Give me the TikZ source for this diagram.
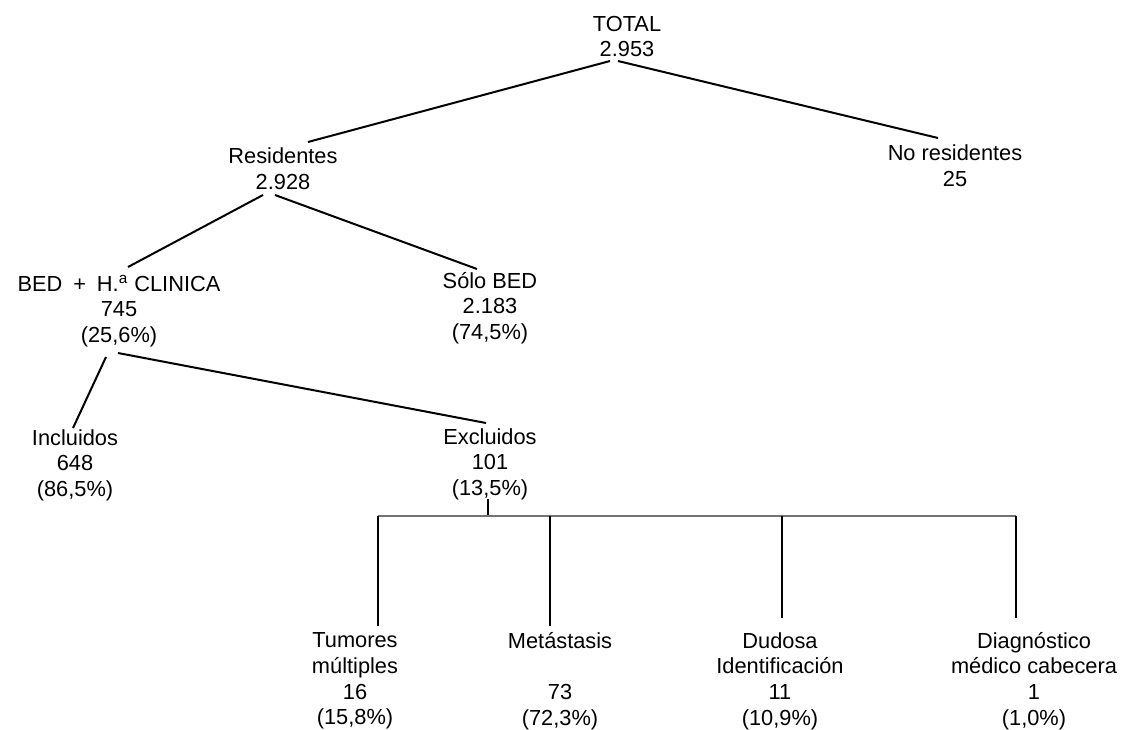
\documentclass[tikz,border=0pt]{standalone}
\usepackage{fontspec}
\setmainfont{Liberation Sans}
\usetikzlibrary{calc}
\tikzset{cifra/.style = {align=center, inner sep=0, font=\fontsize{10.9}{12.8}\selectfont}}
\tikzset{rama/.style = {line width=1pt}}
\tikzset{barra/.style = {line width=0.8pt, black!55}}

\begin{document}
\begin{tikzpicture}[x=0.5pt, y=0.5pt]
      \useasboundingbox (0,0) rectangle (1125,-729);
      \node [cifra] (total) at (627,-36.5) {TOTAL\\2.953};
      \node [cifra] (res) at (283,-168.5) {Residentes\\2.928};
      \node [cifra] (nores) at (955,-166) {No residentes\\25};
      \node [cifra] (bed) at (119,-311) {BED\enspace+\enspace H.\textsuperscript{a} CLINICA\\745\\(25,6\%)};
      \node [cifra] (solo) at (490,-308) {Sólo BED\\2.183\\(74,5\%)};
      \node [cifra] (inc) at (75,-465) {Incluidos\\648\\(86,5\%)};
      \node [cifra] (exc) at (490,-464) {Excluidos\\101\\(13,5\%)};
      \node [cifra] (tum) at (355,-681) {Tumores\\múltiples\\16\\(15,8\%)};
      \node [cifra] (met) at (560,-681) {Metástasis\\\mbox{}\\73\\(72,3\%)};
      \node [cifra] (dud) at (780,-681) {Dudosa\\Identificación\\11\\(10,9\%)};
      \node [cifra] (diag) at (1034,-681) {Diagnóstico\\médico cabecera\\1\\(1,0\%)};
      \draw [rama] ($(total)+(-17,-24.5)$) -- ($(res)+(25,26.5)$);
      \draw [rama] ($(total)+(-9,-24.5)$) -- ($(nores)+(-17,28)$);
      \draw [rama] ($(res)+(-20,-26.5)$) -- ($(bed)+(9,44)$);
      \draw [rama] ($(res)+(-8,-26.5)$) -- ($(solo)+(-13,39)$);
      \draw [rama] ($(bed)+(-13,-46)$) -- ($(inc)+(-2,37)$);
      \draw [rama] ($(bed)+(-1,-42)$) -- ($(exc)+(-4,41)$);
      \coordinate (nudo) at ($(exc)+(-2,-52)$);
      \coordinate (b1) at (378,-516);
      \coordinate (b2) at (550,-516);
      \coordinate (b3) at (782,-516);
      \coordinate (b4) at (1016,-516);
      \draw [rama] ($(exc)+(-2,-35)$) -- (nudo);
      \draw [barra] (b1) -- (b4);
      \draw [rama] (b1) -- ($(b1 |- tum.north)+(0,6)$);
      \draw [rama] (b2) -- ($(b2 |- met.north)+(0,6)$);
      \draw [rama] (b3) -- ($(b3 |- dud.north)+(0,14)$);
      \draw [rama] (b4) -- ($(b4 |- diag.north)+(0,14)$);
\end{tikzpicture}
\end{document}
